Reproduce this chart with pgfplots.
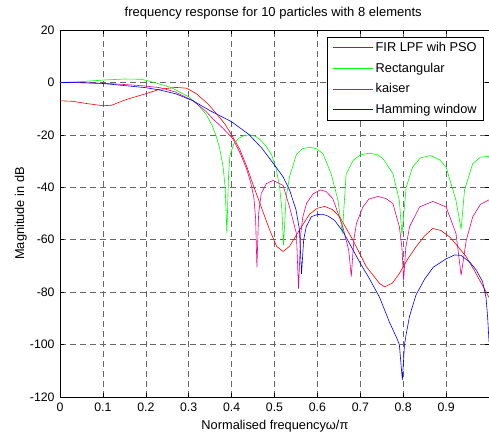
\documentclass[border=0pt]{standalone}
\usepackage{pgfplots}
\pgfplotsset{compat=1.18}
\usepackage{fontspec}
\setmainfont{Liberation Sans}
\begin{document}
\fontsize{12.8}{14}\selectfont
\begin{tikzpicture}
\useasboundingbox (-60pt,-39pt) rectangle (429pt,397pt);
\begin{axis}[
  at={(0pt,0pt)}, anchor=south west,
  scale only axis, width=429pt, height=367pt,
  xmin=0, xmax=1, ymin=-120, ymax=20,
  xtick={0,0.1,0.2,0.3,0.4,0.5,0.6,0.7,0.8,0.9},
  xticklabels={0,0.1,0.2,0.3,0.4,0.5,0.6,0.7,0.8,0.9},
  ytick={-120,-100,-80,-60,-40,-20,0,20},
  yticklabels={-120,-100,-80,-60,-40,-20,0,20},
  tick align=inside, major tick length=4pt,
  tick style={black, line width=0.5pt},
  axis line style={black, line width=0.6pt},
  grid=major,
  grid style={dash pattern=on 6pt off 4pt, black!60, line width=0.5pt},
  ticklabel style={font=\fontsize{12.3}{13}\selectfont},
  xticklabel style={yshift=-1pt},
  yticklabel style={xshift=-1pt},
  title={frequency response for 10 particles with 8 elements},
  title style={at={(axis description cs:0.497,1)}, anchor=base, yshift=7pt, font=\fontsize{13}{14}\selectfont},
  xlabel={Normalised frequencyω/π},
  xlabel style={at={(axis description cs:0.501,0)}, anchor=base, yshift=-32pt, font=\fontsize{12.8}{14}\selectfont},
  ylabel={Magnitude in dB},
  ylabel style={at={(axis description cs:-0.0839,0.5)}, anchor=base, font=\fontsize{12.8}{14}\selectfont},
  legend cell align=left,
  legend style={at={(0.988,0.981)}, anchor=north east,
    font=\fontsize{12.8}{14}\selectfont, row sep=5.5pt, inner xsep=5pt, inner ysep=3pt},
  legend image code/.code={\draw[line width=1pt] (0pt,0pt) -- (40pt,0pt);},
  every axis plot/.append style={line width=0.6pt, line join=round},
]
\addplot[red] coordinates {
(0,-7) (0.03,-7.2) (0.06,-8) (0.1,-8.9) (0.12,-8.7) (0.155,-6.5) (0.2,-4.3) (0.233,-2.6)
(0.27,-1.9) (0.295,-2.2) (0.318,-4.3) (0.345,-8.2) (0.365,-12) (0.385,-16) (0.4,-20)
(0.419,-25.5) (0.435,-32) (0.45,-39) (0.469,-47.5) (0.489,-56.4) (0.505,-62.5) (0.52,-64.5)
(0.535,-62.5) (0.55,-58.5) (0.565,-54.5) (0.582,-50.2) (0.6,-48) (0.617,-47.3) (0.635,-48.5)
(0.652,-51.3) (0.683,-60.2) (0.714,-70.3) (0.745,-76.7) (0.757,-78) (0.775,-76.5) (0.791,-72.9)
(0.81,-67.5) (0.83,-62.7) (0.85,-58.5) (0.869,-55.7) (0.888,-56.5) (0.908,-58.9) (0.927,-62.5)
(0.947,-66.5) (0.965,-71.5) (0.978,-75.4) (0.989,-78.6) (1,-82)
};
\addlegendentry{FIR LPF wih PSO}
\addplot[green] coordinates {
(0,0) (0.05,0.3) (0.1,0.9) (0.15,1.3) (0.19,1.2) (0.21,0.4) (0.24,-1) (0.26,-2) (0.28,-3.8)
(0.30,-5.5) (0.32,-8.3) (0.34,-12) (0.355,-16.5) (0.365,-21) (0.372,-25) (0.38,-32) (0.385,-40)
(0.389,-57.5) (0.393,-35) (0.396,-28) (0.405,-23.5) (0.415,-21.5) (0.428,-20.3) (0.442,-20)
(0.455,-20.5) (0.469,-22.2) (0.481,-24.5) (0.493,-27.5) (0.504,-33) (0.512,-40) (0.517,-48)
(0.521,-62) (0.527,-44) (0.535,-36) (0.551,-27.5) (0.565,-25.3) (0.582,-24.7) (0.598,-25.3)
(0.613,-27.2) (0.632,-34.8) (0.648,-45) (0.658,-57.6) (0.667,-35) (0.683,-29.8) (0.70,-27.6)
(0.722,-27) (0.74,-27.6) (0.753,-29.1) (0.776,-34.8) (0.791,-45) (0.797,-58) (0.807,-40)
(0.822,-32.3) (0.84,-28.8) (0.863,-27.9) (0.885,-29.5) (0.9,-32.3) (0.923,-45) (0.935,-56)
(0.943,-41) (0.962,-31) (0.98,-28.5) (1.0,-28.2)
};
\addlegendentry{Rectangular}
\addplot[magenta] coordinates {
(0,0) (0.05,-0.1) (0.1,-0.3) (0.15,-0.8) (0.194,-1.3) (0.233,-2) (0.27,-3.7) (0.31,-7)
(0.34,-11) (0.357,-14) (0.38,-17.5) (0.403,-21.5) (0.42,-27) (0.435,-33) (0.445,-38.5)
(0.452,-44) (0.456,-52) (0.459,-70.5) (0.463,-50) (0.469,-42.4) (0.481,-38.6) (0.497,-37.4)
(0.52,-39.3) (0.535,-47.5) (0.551,-57.6) (0.556,-78.6) (0.561,-58) (0.566,-51.3) (0.575,-46)
(0.59,-42.5) (0.607,-41) (0.62,-41.6) (0.636,-44.3) (0.659,-55) (0.673,-64) (0.679,-74)
(0.685,-60) (0.691,-53.8) (0.706,-47.5) (0.72,-44.5) (0.741,-43.5) (0.76,-44.3) (0.776,-46.2)
(0.791,-55) (0.797,-63) (0.801,-75.5) (0.806,-63) (0.815,-55) (0.838,-47.5) (0.869,-45.4)
(0.9,-47.5) (0.923,-57.6) (0.935,-73.5) (0.947,-60.2) (0.962,-51.3) (0.98,-46.5) (1.0,-44.8)
};
\addlegendentry{kaiser}
\addplot[blue] coordinates {
(0,0) (0.05,-0.1) (0.1,-0.4) (0.15,-1.2) (0.2,-2) (0.233,-2.9) (0.271,-4.4) (0.31,-7)
(0.35,-10.8) (0.4,-15) (0.44,-19.8) (0.47,-25) (0.5,-31.5) (0.52,-36) (0.535,-41) (0.55,-48.5)
(0.558,-56) (0.563,-73) (0.568,-60) (0.574,-55) (0.586,-51.2) (0.6,-50.4) (0.612,-50.3)
(0.625,-51) (0.64,-52.6) (0.66,-57) (0.68,-63) (0.70,-69) (0.72,-74.5) (0.745,-82)
(0.768,-91.5) (0.785,-97.5) (0.791,-100) (0.798,-113.5) (0.803,-100) (0.807,-96) (0.815,-89)
(0.83,-81) (0.85,-75) (0.87,-70.5) (0.9,-67.3) (0.92,-65.8) (0.935,-66) (0.955,-68.5)
(0.97,-71.5) (0.985,-76) (0.993,-82) (0.997,-90) (1.0,-99)
};
\addlegendentry{Hamming window}
\end{axis}
\end{tikzpicture}
\end{document}
